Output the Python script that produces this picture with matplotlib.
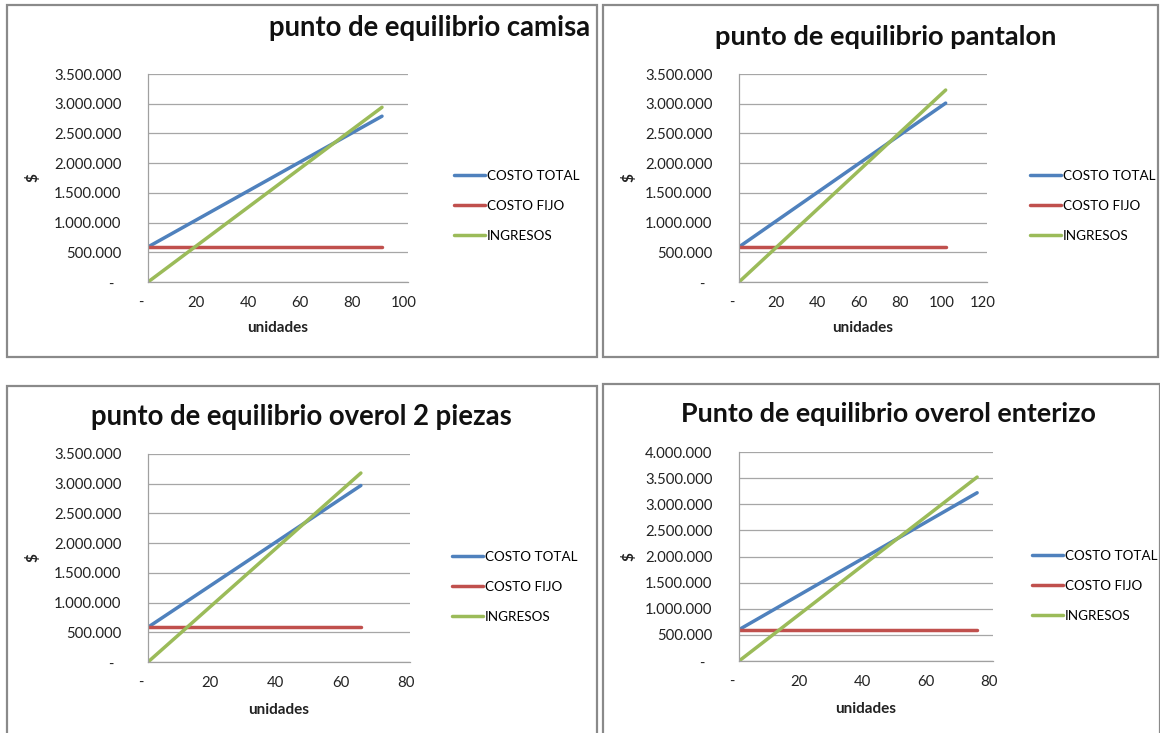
import matplotlib
matplotlib.use("Agg")
import matplotlib.pyplot as plt
from matplotlib.patches import Rectangle
from matplotlib.transforms import ScaledTranslation
from matplotlib.ticker import FuncFormatter, MultipleLocator

W, H, DPI = 1160, 733, 100

plt.rcParams["font.family"] = ["Lato", "DejaVu Sans"]

series_names = ["COSTO TOTAL", "COSTO FIJO", "INGRESOS"]
series_colors = ["#4F81BD", "#C0504D", "#9BBB59"]

titles = [
    "punto de equilibrio camisa",
    "punto de equilibrio pantalon",
    "punto de equilibrio overol 2 piezas",
    "Punto de equilibrio overol enterizo",
]

# units produced / sold (start and end of each series)
camisa_units = [0, 90]
camisa_costo_total = [590000, 2790000]
camisa_costo_fijo = [590000, 590000]
camisa_ingresos = [0, 2940000]

pantalon_units = [0, 100]
pantalon_costo_total = [590000, 3010000]
pantalon_costo_fijo = [590000, 590000]
pantalon_ingresos = [0, 3230000]

overol2_units = [0, 65]
overol2_costo_total = [585000, 2970000]
overol2_costo_fijo = [585000, 585000]
overol2_ingresos = [0, 3180000]

enterizo_units = [0, 75]
enterizo_costo_total = [600000, 3220000]
enterizo_costo_fijo = [600000, 600000]
enterizo_ingresos = [0, 3520000]

x_max = [100, 120, 80, 80]
y_max = [3500000, 3500000, 3500000, 4000000]

data = [
    (camisa_units, [camisa_costo_total, camisa_costo_fijo, camisa_ingresos]),
    (pantalon_units, [pantalon_costo_total, pantalon_costo_fijo, pantalon_ingresos]),
    (overol2_units, [overol2_costo_total, overol2_costo_fijo, overol2_ingresos]),
    (enterizo_units, [enterizo_costo_total, enterizo_costo_fijo, enterizo_ingresos]),
]

# layout in pixels: chart box, plot area, title (x, y, ha, size), legend anchor, $ label x, xlabel top y
layout = [
    dict(box=(7, 5, 597, 357), plot=(148, 74, 408, 282), title=(590, 28, "right", 19.8),
         leg=(454, 206), ylab=40, xlab=321),
    dict(box=(603, 5, 1158, 357), plot=(739, 74, 987, 282), title=(886, 37, "center", 19.6),
         leg=(1030, 206), ylab=636, xlab=321),
    dict(box=(7, 386, 597, 740), plot=(148, 454, 410, 662), title=(301, 417, "center", 19.8),
         leg=(452, 587), ylab=40, xlab=703),
    dict(box=(603, 384, 1160, 740), plot=(739, 452, 993, 661), title=(888, 414, "center", 19.4),
         leg=(1032, 586), ylab=636, xlab=702),
]


def money(v, pos):
    if v == 0:
        return "-"
    return f"{int(round(v)):,}".replace(",", ".")


def units_fmt(v, pos):
    if v == 0:
        return "-"
    return f"{int(round(v))}"


fig = plt.figure(figsize=(W / DPI, H / DPI), dpi=DPI)
fig.patch.set_facecolor("white")

for i, (units, values) in enumerate(data):
    L = layout[i]
    bl, bt, br, bb = L["box"]
    fig.patches.append(Rectangle((bl / W, 1 - bb / H), (br - bl) / W, (bb - bt) / H,
                                 transform=fig.transFigure, fill=False,
                                 edgecolor="#8a8a8a", linewidth=1.6))

    pl, pt, pr, pb = L["plot"]
    ax = fig.add_axes([pl / W, 1 - pb / H, (pr - pl) / W, (pb - pt) / H])
    for name, color, ys in zip(series_names, series_colors, values):
        ax.plot(units, ys, color=color, linewidth=2.5, label=name,
                solid_capstyle="round")

    ax.set_xlim(0, x_max[i])
    ax.set_ylim(0, y_max[i])
    ax.xaxis.set_major_locator(MultipleLocator(20))
    ax.yaxis.set_major_locator(MultipleLocator(500000))
    ax.xaxis.set_major_formatter(FuncFormatter(units_fmt))
    ax.yaxis.set_major_formatter(FuncFormatter(money))
    ax.yaxis.grid(True, color="#a6a6a6", linewidth=0.9)
    ax.set_axisbelow(True)
    for s in ("top", "right"):
        ax.spines[s].set_visible(False)
    for s in ("left", "bottom"):
        ax.spines[s].set_color("#a0a0a0")
        ax.spines[s].set_linewidth(0.9)
    ax.tick_params(axis="both", length=0, labelsize=10.7, colors="#222222")
    ax.tick_params(axis="y", pad=19)
    ax.tick_params(axis="x", pad=10)

    fig.canvas.draw()
    for lbl in ax.get_xticklabels():
        dx = -7 if lbl.get_text() == "-" else -4
        lbl.set_transform(lbl.get_transform() + ScaledTranslation(dx / DPI, 0, fig.dpi_scale_trans))
    for lbl in ax.get_yticklabels():
        if lbl.get_text() == "-":
            lbl.set_transform(lbl.get_transform() + ScaledTranslation(-8 / DPI, -1 / DPI, fig.dpi_scale_trans))

    ax.set_xlabel("unidades", fontsize=11, fontweight="bold", color="#222222")
    ax.xaxis.set_label_coords(0.5, (pb - L["xlab"]) / (pb - pt))
    ax.set_ylabel("$", fontsize=11, fontweight="bold", color="#222222")
    ax.yaxis.set_label_coords((L["ylab"] - pl) / (pr - pl), 0.5)

    tx, ty, tha, tsize = L["title"]
    fig.text(tx / W, 1 - ty / H, titles[i], fontsize=tsize, fontweight="bold",
             ha=tha, va="center", color="#111111")

    lx, ly = L["leg"]
    ax.legend(loc="center left", bbox_to_anchor=(lx / W, 1 - ly / H),
              bbox_transform=fig.transFigure, frameon=False, fontsize=9.7,
              handlelength=2.3, handletextpad=0.15, labelspacing=1.35,
              borderpad=0, borderaxespad=0)

fig.savefig("out.png", dpi=DPI, facecolor="white")
